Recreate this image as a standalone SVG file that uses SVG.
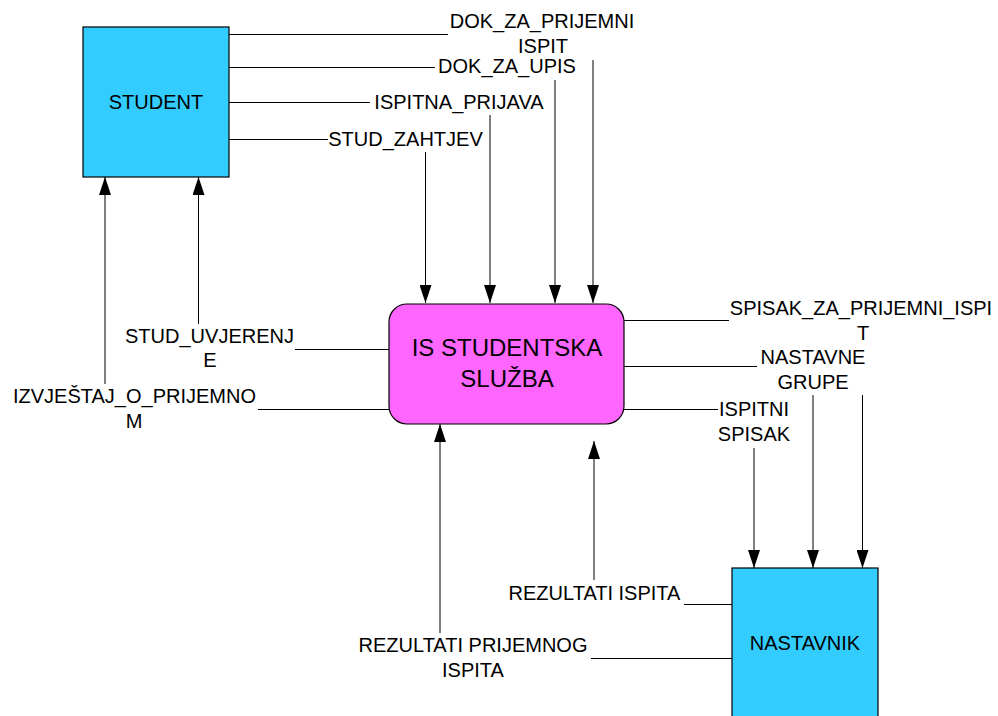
<svg xmlns="http://www.w3.org/2000/svg" width="998" height="716" viewBox="0 0 998 716">
<style>
.box{stroke:#000;stroke-width:1.2}
.ext{fill:#33CCFF}
.proc{fill:#FF66FF}
.t{font-family:"Liberation Sans",Arial,sans-serif;font-size:20px;fill:#000;text-anchor:middle}
.big{font-size:24px}
.c{fill:none;stroke:#000;stroke-width:1}
.a{marker-end:url(#arr)}
</style>
<defs>
<marker id="arr" viewBox="0 0 18 12" markerWidth="18" markerHeight="12" refX="18" refY="6" orient="auto" markerUnits="userSpaceOnUse">
<path d="M0,0 L18,6 L0,12 z" fill="#000"/>
</marker>
</defs>
<rect width="998" height="716" fill="#fff"/>
<g id="connectors">
<path class="c a" d="M229,34.5 H448 M593,60 V303"/>
<path class="c a" d="M229,67.5 H435 M555,80 V303"/>
<path class="c a" d="M229,102.5 H370 M490,115 V303"/>
<path class="c a" d="M229,139.5 H328 M425.5,152 V303"/>
<path class="c a" d="M389,349.5 H295 M198.5,324 V177"/>
<path class="c a" d="M389,409.5 H258 M105,384 V177"/>
<path class="c a" d="M624,320.5 H729 M862.5,395 V568"/>
<path class="c a" d="M624,366.5 H757 M813,395 V568"/>
<path class="c a" d="M624,409.5 H718 M754,448 V568"/>
<path class="c a" d="M732,604.5 H684 M594,580 V441"/>
<path class="c a" d="M732,658.5 H591 M440,633 V424"/>
</g>
<g id="labels">
<text class="t" x="542" y="28">DOK_ZA_PRIJEMNI</text>
<text class="t" x="543" y="53">ISPIT</text>
<text class="t" x="507" y="73">DOK_ZA_UPIS</text>
<text class="t" x="459" y="109">ISPITNA_PRIJAVA</text>
<text class="t" x="405.5" y="146">STUD_ZAHTJEV</text>
<text class="t" x="209.5" y="343">STUD_UVJERENJ</text>
<text class="t" x="210" y="367">E</text>
<text class="t" x="134.5" y="403">IZVJEŠTAJ_O_PRIJEMNO</text>
<text class="t" x="134" y="428">M</text>
<text class="t" x="861" y="315">SPISAK_ZA_PRIJEMNI_ISPI</text>
<text class="t" x="863" y="340">T</text>
<text class="t" x="813" y="364">NASTAVNE</text>
<text class="t" x="813" y="389">GRUPE</text>
<text class="t" x="754" y="416">ISPITNI</text>
<text class="t" x="754" y="441">SPISAK</text>
<text class="t" x="594.5" y="600">REZULTATI ISPITA</text>
<text class="t" x="473" y="652">REZULTATI PRIJEMNOG</text>
<text class="t" x="473" y="677">ISPITA</text>
</g>
<g id="student">
<rect class="box ext" x="83" y="27" width="146" height="150"/>
<text class="t" x="156" y="109">STUDENT</text>
</g>
<g id="is-studentska-sluzba">
<rect class="box proc" x="389" y="304" width="235" height="120" rx="18" ry="18"/>
<text class="t big" x="507" y="356">IS STUDENTSKA</text>
<text class="t big" x="507" y="387">SLUŽBA</text>
</g>
<g id="nastavnik">
<rect class="box ext" x="732" y="568" width="146" height="152"/>
<text class="t" x="805" y="650">NASTAVNIK</text>
</g>
</svg>
